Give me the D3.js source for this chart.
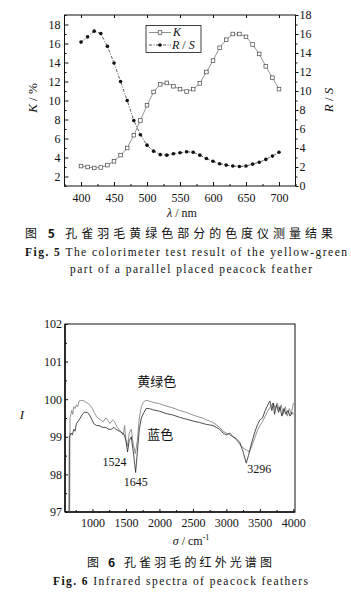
<!DOCTYPE html>
<html><head><meta charset="utf-8">
<script src="https://cdn.jsdelivr.net/npm/d3@7"></script>
<style>
body{margin:0;background:#fff;}
svg text{font-family:"Liberation Serif","Times New Roman",serif;fill:#111;}
.cjk{font-family:"Noto Sans CJK SC",sans-serif !important;}
</style></head>
<body>
<svg id="c" width="351" height="599"></svg>
<script>
// ---------- Fig.5 data ----------
const wavelengths = [400,410,420,430,440,450,460,470,480,490,500,510,520,530,540,550,560,570,580,590,600,610,620,630,640,650,660,670,680,690,700];
const kValues  = [3.1,3.0,2.9,2.95,3.2,3.6,4.25,5.0,6.35,7.9,9.5,10.9,11.7,11.85,11.5,11.2,10.95,11.2,11.8,13.0,14.2,15.55,16.4,17.0,17.0,16.7,15.9,14.9,13.6,12.4,11.2];
const rsValues = [15.15,15.7,16.3,16.05,14.7,12.95,11.0,9.0,6.9,5.4,4.3,3.67,3.3,3.25,3.4,3.5,3.6,3.55,3.25,2.9,2.6,2.35,2.2,2.1,2.05,2.1,2.3,2.5,2.8,3.15,3.55];
const xTicks5 = [400,450,500,550,600,650,700];
const kTicks = [2,4,6,8,10,12,14,16,18];
const rsTicks = [0,2,4,6,8,10,12,14,16,18];

// ---------- Fig.6 data ----------
const yellowGreen = [[660,97.0],[665,99.5],[690,99.7],[705,99.6],[720,99.8],[740,99.75],[760,99.85],[780,99.8],[800,99.95],[840,99.97],[880,99.95],[920,99.9],[960,99.85],[1000,99.75],[1040,99.6],[1080,99.5],[1120,99.45],[1160,99.4],[1200,99.5],[1230,99.45],[1260,99.35],[1300,99.45],[1330,99.4],[1370,99.25],[1420,99.15],[1460,99.05],[1480,99.3],[1500,98.9],[1524,98.75],[1550,99.1],[1580,99.2],[1610,98.8],[1640,98.55],[1670,98.9],[1700,99.5],[1730,99.8],[1760,99.92],[1800,99.97],[1850,99.95],[1900,99.92],[2000,99.88],[2100,99.82],[2200,99.77],[2300,99.7],[2400,99.65],[2500,99.58],[2600,99.52],[2650,99.5],[2700,99.45],[2750,99.42],[2800,99.38],[2850,99.32],[2900,99.25],[2950,99.15],[3000,99.1],[3050,99.05],[3100,99.0],[3150,98.92],[3200,98.8],[3250,98.7],[3300,98.65],[3340,98.6],[3380,98.75],[3420,98.95],[3460,99.15],[3500,99.3],[3540,99.4],[3580,99.55],[3620,99.7],[3660,99.8],[3700,99.9],[3730,99.75],[3760,99.9],[3790,99.7],[3820,99.85],[3850,99.6],[3880,99.8],[3910,99.55],[3940,99.75],[3970,99.6],[4000,99.9]];
const blue = [[650,97.0],[655,99.0],[680,99.1],[700,99.05],[720,99.2],[740,99.15],[760,99.35],[800,99.45],[850,99.6],[880,99.65],[920,99.65],[950,99.6],[980,99.5],[1020,99.35],[1060,99.3],[1100,99.3],[1150,99.25],[1200,99.25],[1240,99.2],[1280,99.2],[1320,99.25],[1350,99.2],[1400,99.15],[1450,99.1],[1475,99.05],[1500,98.9],[1524,98.6],[1550,98.9],[1580,99.0],[1610,98.6],[1645,98.05],[1670,98.6],[1700,99.2],[1730,99.5],[1770,99.65],[1800,99.75],[1850,99.75],[1900,99.72],[2000,99.68],[2100,99.62],[2200,99.58],[2300,99.52],[2400,99.47],[2500,99.42],[2600,99.38],[2700,99.33],[2800,99.3],[2850,99.25],[2900,99.2],[2950,99.1],[3000,99.05],[3050,99.1],[3100,99.0],[3150,98.95],[3200,98.85],[3250,98.6],[3296,98.3],[3330,98.5],[3380,98.85],[3420,99.1],[3460,99.3],[3500,99.45],[3540,99.5],[3580,99.7],[3620,99.85],[3650,99.95],[3680,99.7],[3700,99.9],[3720,99.6],[3750,99.85],[3780,99.65],[3800,99.8],[3830,99.55],[3860,99.75],[3890,99.6],[3920,99.7],[3950,99.55],[3980,99.65],[4000,99.6]];
const xTicks6 = [1000,1500,2000,2500,3000,3500,4000];
const yTicks6 = [97,98,99,100,101,102];

const svg = d3.select("#c");

// ================= Fig.5 =================
const L5=64.5, R5=295.5, T5=15, B5=186;
const x5 = d3.scaleLinear([375,725],[L5,R5]);
const yK = d3.scaleLinear([1,19],[B5,T5]);
const yRS = d3.scaleLinear([0,18],[B5,T5]);
const g5 = svg.append("g");

g5.append("rect").attr("x",L5).attr("y",T5).attr("width",R5-L5).attr("height",B5-T5)
  .attr("fill","none").attr("stroke","#111").attr("stroke-width",1);

const ax5 = g5.append("g").attr("transform",`translate(0,${B5})`)
  .call(d3.axisBottom(x5).tickValues(xTicks5).tickSize(-4).tickPadding(7).tickFormat(d3.format("d")));
ax5.select(".domain").remove();
ax5.selectAll("text").attr("font-size",12);
g5.append("g").attr("transform",`translate(0,${B5})`)
  .call(d3.axisBottom(x5).tickValues(d3.range(375,726,25).filter(v=>v%50)).tickSize(-2).tickFormat(""))
  .select(".domain").remove();
g5.append("g").attr("transform",`translate(0,${T5})`)
  .call(d3.axisTop(x5).tickValues(xTicks5).tickSize(-3).tickFormat(""))
  .select(".domain").remove();

const axl = g5.append("g").attr("transform",`translate(${L5},0)`)
  .call(d3.axisLeft(yK).tickValues(kTicks).tickSize(-4).tickPadding(4).tickFormat(d3.format("d")));
axl.select(".domain").remove(); axl.selectAll("text").attr("font-size",12);
g5.append("g").attr("transform",`translate(${L5},0)`)
  .call(d3.axisLeft(yK).tickValues(d3.range(1,20,2)).tickSize(-2).tickFormat(""))
  .select(".domain").remove();
const axr = g5.append("g").attr("transform",`translate(${R5},0)`)
  .call(d3.axisRight(yRS).tickValues(rsTicks).tickSize(3).tickPadding(1).tickFormat(d3.format("d")));
axr.select(".domain").remove(); axr.selectAll("text").attr("font-size",12);
g5.append("g").attr("transform",`translate(${R5},0)`)
  .call(d3.axisRight(yRS).tickValues(d3.range(1,18,2)).tickSize(2).tickFormat(""))
  .select(".domain").remove();
g5.selectAll(".tick line").attr("stroke","#111");

const t5l = g5.append("text").attr("transform","translate(37,98) rotate(-90)").attr("text-anchor","middle").attr("font-size",13);
t5l.append("tspan").attr("font-style","italic").text("K");
t5l.append("tspan").text(" / %");
const t5r = g5.append("text").attr("transform","translate(333,100) rotate(-90)").attr("text-anchor","middle").attr("font-size",13);
t5r.append("tspan").attr("font-style","italic").text("R");
t5r.append("tspan").text(" / ");
t5r.append("tspan").attr("font-style","italic").text("S");
const t5x = g5.append("text").attr("x",182).attr("y",217).attr("text-anchor","middle").attr("font-size",12);
t5x.append("tspan").attr("font-style","italic").text("λ");
t5x.append("tspan").text(" / nm");

const kData = wavelengths.map((w,i)=>[w,kValues[i]]);
const rsData = wavelengths.map((w,i)=>[w,rsValues[i]]);
g5.append("path").datum(kData).attr("fill","none").attr("stroke","#777").attr("stroke-width",0.8)
  .attr("d",d3.line().x(d=>x5(d[0])).y(d=>yK(d[1])));
g5.append("path").datum(rsData).attr("fill","none").attr("stroke","#333").attr("stroke-width",0.8)
  .attr("stroke-dasharray","3,1.5,1,1.5")
  .attr("d",d3.line().x(d=>x5(d[0])).y(d=>yRS(d[1])));
g5.selectAll(".sq").data(kData).join("rect").attr("x",d=>x5(d[0])-1.8).attr("y",d=>yK(d[1])-1.8)
  .attr("width",3.6).attr("height",3.6).attr("fill","#fff").attr("stroke","#444").attr("stroke-width",0.7);
g5.selectAll(".dt").data(rsData).join("circle").attr("cx",d=>x5(d[0])).attr("cy",d=>yRS(d[1]))
  .attr("r",1.8).attr("fill","#111");

// legend
g5.append("rect").attr("x",146).attr("y",25.5).attr("width",55).attr("height",27)
  .attr("fill","#fff").attr("stroke","#111").attr("stroke-width",0.8);
g5.append("line").attr("x1",149).attr("x2",171).attr("y1",32.5).attr("y2",32.5).attr("stroke","#777").attr("stroke-width",0.8);
g5.append("rect").attr("x",158.2).attr("y",30.7).attr("width",3.6).attr("height",3.6).attr("fill","#fff").attr("stroke","#444").attr("stroke-width",0.7);
g5.append("line").attr("x1",149).attr("x2",171).attr("y1",45).attr("y2",45).attr("stroke","#333").attr("stroke-width",0.8).attr("stroke-dasharray","3,1.5,1,1.5");
g5.append("circle").attr("cx",160).attr("cy",45).attr("r",1.8).attr("fill","#111");
g5.append("text").attr("x",173).attr("y",36).attr("font-size",12).attr("font-style","italic").text("K");
const lg2 = g5.append("text").attr("x",172).attr("y",49).attr("font-size",12);
lg2.append("tspan").attr("font-style","italic").text("R");
lg2.append("tspan").text(" / ");
lg2.append("tspan").attr("font-style","italic").text("S");

// captions 5
const c5a = svg.append("text").attr("x",25).attr("y",238).attr("font-size",12).attr("class","cjk")
  .attr("textLength",308).attr("lengthAdjust","spacing");
c5a.append("tspan").text("图 ");
c5a.append("tspan").attr("font-weight","bold").text("5");
c5a.append("tspan").text("   孔雀羽毛黄绿色部分的色度仪测量结果");
const c5b = svg.append("text").attr("x",25).attr("y",256).attr("font-size",11.5)
  .attr("textLength",322).attr("lengthAdjust","spacing");
c5b.append("tspan").attr("font-weight","bold").text("Fig. 5");
c5b.append("tspan").text("    The colorimeter test result of the yellow-green");
svg.append("text").attr("x",70).attr("y",273).attr("font-size",11.5)
  .attr("textLength",242).attr("lengthAdjust","spacing")
  .text("part of a parallel placed peacock feather");

// ================= Fig.6 =================
const L6=65, R6=295, T6=324, B6=512;
const x6 = d3.scaleLinear([590,4025],[L6,R6]);
const y6 = d3.scaleLinear([97,102],[B6,T6]);
const g6 = svg.append("g");
g6.append("defs").append("clipPath").attr("id","cp6").append("rect")
  .attr("x",L6).attr("y",T6).attr("width",R6-L6).attr("height",B6-T6);

g6.append("rect").attr("x",L6).attr("y",T6).attr("width",R6-L6).attr("height",B6-T6)
  .attr("fill","none").attr("stroke","#111").attr("stroke-width",1);
g6.append("line").attr("x1",L6).attr("x2",L6).attr("y1",T6).attr("y2",B6).attr("stroke","#111").attr("stroke-width",1.5);
g6.append("line").attr("x1",L6).attr("x2",R6).attr("y1",B6).attr("y2",B6).attr("stroke","#111").attr("stroke-width",1.5);

const ax6 = g6.append("g").attr("transform",`translate(0,${B6})`)
  .call(d3.axisBottom(x6).tickValues(xTicks6).tickSize(-3).tickPadding(6).tickFormat(d3.format("d")));
ax6.select(".domain").remove(); ax6.selectAll("text").attr("font-size",12);
g6.append("g").attr("transform",`translate(0,${B6})`)
  .call(d3.axisBottom(x6).tickValues(d3.range(750,4001,500)).tickSize(-2).tickFormat(""))
  .select(".domain").remove();
const ay6 = g6.append("g").attr("transform",`translate(${L6},0)`)
  .call(d3.axisLeft(y6).tickValues(yTicks6).tickSize(-3).tickPadding(3).tickFormat(d3.format("d")));
ay6.select(".domain").remove(); ay6.selectAll("text").attr("font-size",12);
g6.append("g").attr("transform",`translate(${L6},0)`)
  .call(d3.axisLeft(y6).tickValues(d3.range(97.5,102,1)).tickSize(-2).tickFormat(""))
  .select(".domain").remove();
g6.selectAll(".tick line").attr("stroke","#111");

const line6 = d3.line().x(d=>x6(d[0])).y(d=>y6(d[1]));
g6.append("path").datum(yellowGreen).attr("clip-path","url(#cp6)").attr("fill","none")
  .attr("stroke","#777").attr("stroke-width",0.8).attr("d",line6);
g6.append("path").datum(blue).attr("clip-path","url(#cp6)").attr("fill","none")
  .attr("stroke","#222").attr("stroke-width",0.8).attr("d",line6);

g6.append("text").attr("x",x6(1960)).attr("y",386).attr("text-anchor","middle").attr("font-size",13).attr("class","cjk").text("黄绿色");
g6.append("text").attr("x",x6(1820)).attr("y",439).attr("text-anchor","start").attr("font-size",13).attr("class","cjk").text("蓝色");
g6.append("text").attr("x",x6(1524)-1).attr("y",466).attr("text-anchor","end").attr("font-size",12).text("1524");
g6.append("text").attr("x",x6(1645)).attr("y",486).attr("text-anchor","middle").attr("font-size",12).text("1645");
g6.append("text").attr("x",x6(3296)+1).attr("y",473).attr("text-anchor","start").attr("font-size",12).text("3296");

g6.append("text").attr("x",22).attr("y",419).attr("font-size",13).attr("font-style","italic").attr("text-anchor","middle").text("I");
const t6x = g6.append("text").attr("x",191).attr("y",545).attr("text-anchor","middle").attr("font-size",12);
t6x.append("tspan").attr("font-style","italic").text("σ");
t6x.append("tspan").text(" / cm");
t6x.append("tspan").attr("font-size",8).attr("dy",-5).text("-1");

const c6a = svg.append("text").attr("x",87).attr("y",567).attr("font-size",12).attr("class","cjk")
  .attr("textLength",185).attr("lengthAdjust","spacing");
c6a.append("tspan").text("图 ");
c6a.append("tspan").attr("font-weight","bold").text("6");
c6a.append("tspan").text("   孔雀羽毛的红外光谱图");
const c6b = svg.append("text").attr("x",53).attr("y",585).attr("font-size",11.5)
  .attr("textLength",255).attr("lengthAdjust","spacing");
c6b.append("tspan").attr("font-weight","bold").text("Fig. 6");
c6b.append("tspan").text("    Infrared spectra of peacock feathers");
</script>
</body></html>
